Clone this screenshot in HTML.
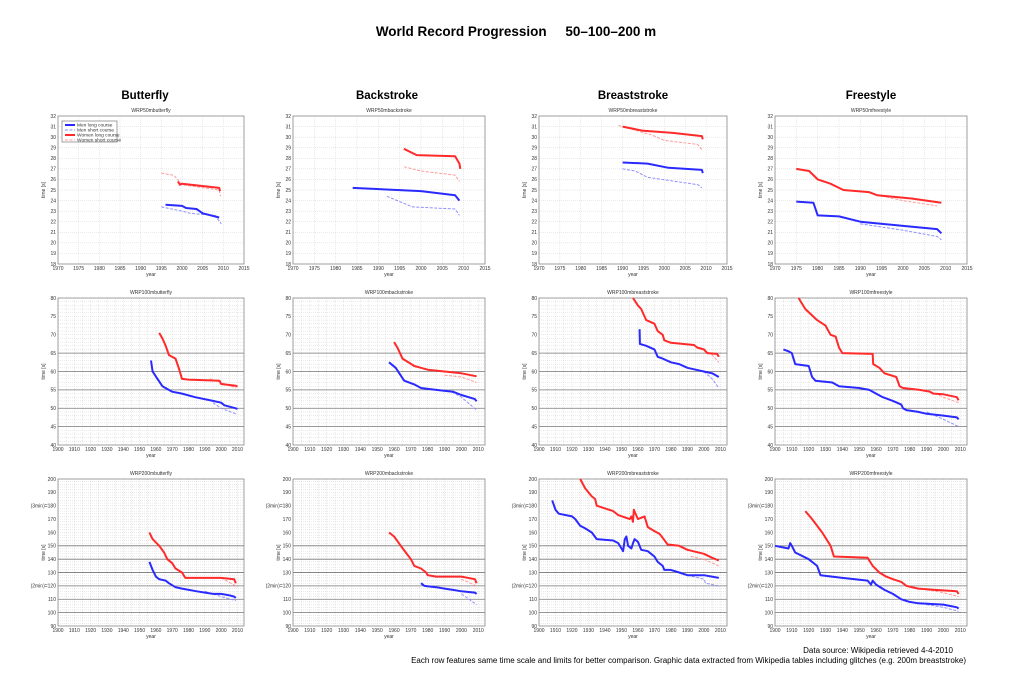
<!DOCTYPE html>
<html><head><meta charset="utf-8"><style>
html,body{margin:0;padding:0;background:#fff;}
svg{display:block;font-family:"Liberation Sans",sans-serif;}
</style></head><body>
<svg id="s" width="1024" height="673" viewBox="0 0 1024 673" xmlns="http://www.w3.org/2000/svg">
<text x="516" y="36" font-size="13.5" font-weight="bold" text-anchor="middle" xml:space="preserve">World Record Progression     50–100–200 m</text>
<text x="145" y="99" font-size="11.5" font-weight="bold" text-anchor="middle">Butterfly</text>
<text x="387" y="99" font-size="11.5" font-weight="bold" text-anchor="middle">Backstroke</text>
<text x="633" y="99" font-size="11.5" font-weight="bold" text-anchor="middle">Breaststroke</text>
<text x="871" y="99" font-size="11.5" font-weight="bold" text-anchor="middle">Freestyle</text>
<text x="953" y="653" font-size="8" text-anchor="end">Data source: Wikipedia retrieved 4-4-2010</text>
<text x="966" y="663" font-size="8" text-anchor="end">Each row features same time scale and limits for better comparison. Graphic data extracted from Wikipedia tables including glitches (e.g. 200m breaststroke)</text>
</svg>
<script>
var S=document.getElementById('s'),NS='http://www.w3.org/2000/svg';
function el(t,a,txt){var e=document.createElementNS(NS,t);for(var k in a)e.setAttribute(k,a[k]);if(txt!=null)e.textContent=txt;S.appendChild(e);return e;}
var cols=[[58,244],[293,485],[539,727],[775,967]];
var rows=[{t:116,b:264,x0:1970,x1:2015,xs:5,y0:18,y1:32,ys:1,dark:[],dist:'50'},
{t:298,b:445,x0:1900,x1:2014,xs:10,y0:40,y1:80,ys:5,dark:[45,50,55,60,65],dist:'100'},
{t:479,b:626,x0:1900,x1:2014,xs:10,y0:90,y1:200,ys:10,dark:[100,110,120,130,140,150],dist:'200'}];
var names=['butterfly','backstroke','breaststroke','freestyle'];
var D=[
[[[[1996,23.6],[2000,23.5],[2001,23.3],[2003.5,23.2],[2005,22.8],[2009,22.4]],
 [[1995,23.4],[2000,23.0],[2002,22.8],[2008,22.6],[2009.5,21.8]],
 [[1999,25.8],[1999.5,25.5],[2000,25.6],[2009,25.2],[2009.2,24.9]],
 [[1995,26.6],[1998,26.4],[2000,25.5],[2009,25.0],[2009.3,24.4]]],
[[[1984,25.2],[2000,24.9],[2008,24.5],[2009,24.0]],
 [[1992,24.4],[1998,23.4],[2008,23.2],[2009,22.6]],
 [[1996,28.9],[1999,28.3],[2008,28.2],[2009,27.5],[2009.2,27.0]],
 [[1996,27.2],[2000,26.8],[2008,26.4],[2009,25.8]]],
[[[1990,27.6],[1996,27.5],[2001,27.1],[2009,26.9],[2009.2,26.6]],
 [[1990,27.0],[1993,26.8],[1996,26.2],[2008,25.5],[2009,25.2]],
 [[1990,31.0],[1995,30.6],[2002,30.4],[2009,30.1],[2009.2,29.8]],
 [[1989,31.1],[1997,30.2],[2000,29.7],[2008,29.3],[2009,28.8]]],
[[[1975,23.9],[1979,23.8],[1980,22.6],[1985,22.5],[1990,22.0],[2000,21.6],[2008,21.3],[2009,20.9]],
 [[1990,21.8],[2000,21.2],[2008,20.6],[2009,20.3]],
 [[1975,27.0],[1978,26.8],[1980,26.0],[1983,25.6],[1986,25.0],[1992,24.8],[1994,24.5],[2002,24.2],[2009,23.8]],
 [[1993,24.6],[2000,24.0],[2008,23.5]]]],
[[[[1957,63],[1958,60],[1961,58],[1964,56],[1970,54.5],[1976,54],[1984,53],[1995,52],[2000,51.5],[2002,50.8],[2009,50.0],[2010,49.8]],
 [[1995,51.5],[2000,50],[2009,48.5]],
 [[1962,70.5],[1964,69],[1966,67],[1968,64.5],[1972,63.5],[1974,61],[1976,58],[1980,57.8],[1999,57.5],[2000,56.6],[2009,56.1],[2010,55.9]],
 [[1993,58],[2000,57],[2009,55.5]]],
[[[1957,62.5],[1961,61],[1966,57.5],[1972,56.5],[1976,55.5],[1985,55],[1995,54.5],[2000,53.6],[2008,52.5],[2009,51.9]],
 [[1992,55],[2000,53],[2009,49.5]],
 [[1960,68],[1962,66.5],[1965,63.5],[1972,61.5],[1976,61],[1980,60.5],[2000,59.5],[2009,58.7]],
 [[1990,59],[2000,58.5],[2009,57]]],
[[[1961,71.5],[1961.2,67.5],[1965,67],[1970,66],[1972,64],[1975,63.5],[1980,62.5],[1985,62],[1990,61],[1995,60.5],[2000,60],[2005,59.5],[2009,58.5]],
 [[2000,60],[2005,58],[2009,55.5]],
 [[1957,80],[1960,78],[1962,77],[1965,74],[1970,73],[1972,71],[1975,70],[1976,68.5],[1980,67.8],[1994,67.2],[1996,66.5],[2000,66],[2002,65],[2008,64.8],[2009,64]],
 [[2000,66],[2005,64.5],[2009,62.5]]],
[[[1905,66],[1908,65.5],[1910,65],[1912,62],[1920,61.5],[1922,58.5],[1924,57.5],[1934,57],[1938,56],[1950,55.5],[1956,55],[1960,54],[1964,53],[1970,52],[1975,51],[1976,50],[1978,49.5],[1985,49],[1990,48.5],[2000,48],[2008,47.5],[2009,47]],
 [[1990,49],[2000,47],[2009,45]],
 [[1914,80],[1918,77],[1925,74],[1930,72.5],[1933,70],[1936,69.5],[1938,66.5],[1940,65],[1958,64.8],[1958.3,62],[1962,61],[1965,59.5],[1972,58.5],[1974,56],[1976,55.5],[1986,55],[1992,54.5],[1994,54],[2000,53.8],[2008,53],[2009,52.2]],
 [[1990,55],[2000,53],[2009,51.5]]]],
[[[[1956,138],[1957,135],[1958,132],[1960,127],[1962,125],[1966,124],[1968,122],[1972,119],[1976,118],[1985,116],[1995,114],[2000,114],[2005,113],[2008,112],[2009,111]],
 [[1990,116],[2000,112],[2009,109]],
 [[1956,160],[1958,155],[1962,150],[1965,145],[1967,140],[1970,137],[1972,133],[1976,130],[1978,126],[2000,126],[2008,125],[2009,122]],
 [[2000,126],[2009,120]]],
[[[1976,122],[1978,120],[1985,119],[1990,118],[1995,117],[2000,116],[2008,115],[2009,114]],
 [[2000,114],[2009,106]],
 [[1957,160],[1960,157],[1964,150],[1967,145],[1970,140],[1972,135],[1976,133],[1979,130],[1980,128],[1985,127],[2000,127],[2008,125],[2009,122]],
 [[2000,125],[2009,120]]],
[[[1908,184],[1910,177],[1912,174],[1920,172],[1922,170],[1925,165],[1928,163],[1932,160],[1935,155],[1945,154],[1948,152],[1950,148],[1951,146],[1952,155],[1953,157],[1954,150],[1956,148],[1957,152],[1958,155],[1960,153],[1962,147],[1966,146],[1970,142],[1972,138],[1975,135],[1976,132],[1980,132],[1985,130],[1990,128],[2000,128],[2009,126]],
 [[1990,128],[2000,125],[2001,122],[2009,120]],
 [[1925,200],[1928,193],[1932,187],[1934,185],[1935,180],[1940,178],[1945,176],[1948,173],[1955,170],[1956,172],[1957,168],[1957.5,177],[1960,170],[1964,172],[1965,168],[1966,164],[1970,161],[1973,159],[1975,156],[1978,151],[1985,150],[1990,147],[2000,144],[2005,141],[2009,139]],
 [[1992,142],[2000,140],[2009,135]]],
[[[1900,150],[1908,148],[1909,152],[1910,150],[1912,145],[1920,140],[1925,135],[1927,128],[1940,126],[1955,124],[1957,121],[1958,124],[1960,121],[1965,117],[1970,114],[1975,110],[1980,108],[1985,107],[2000,106],[2008,104],[2009,103]],
 [[1990,106],[2000,104],[2009,101]],
 [[1918,176],[1922,170],[1928,160],[1933,150],[1935,142],[1955,141],[1958,135],[1962,130],[1966,127],[1970,125],[1975,123],[1978,120],[1985,118],[1995,117],[2008,116],[2009,114]],
 [[1990,117],[2000,115],[2009,112]]]]];
var styles=[{c:'#2a2aff',w:2,d:''},{c:'#8f8fff',w:1,d:'3,1.5'},{c:'#ff2a2a',w:2,d:''},{c:'#ff9a9a',w:1,d:'3,1.5'}];
rows.forEach(function(r,ri){cols.forEach(function(c,ci){
 var L=c[0],R=c[1],T=r.t,B=r.b;
 function X(v){return L+(v-r.x0)/(r.x1-r.x0)*(R-L);}
 function Y(v){return B-(v-r.y0)/(r.y1-r.y0)*(B-T);}
 var ms=ri==0?1:(ri==1?1:2);
 for(var v=r.y0+ms;v<r.y1;v+=ms){el('line',{x1:L,x2:R,y1:Y(v),y2:Y(v),stroke:'#d4d4d4','stroke-width':0.5,'stroke-dasharray':'1,1'});}
 var xm=ri==0?5:5;
 for(var v=r.x0+xm;v<r.x1;v+=xm){el('line',{x1:X(v),x2:X(v),y1:T,y2:B,stroke:'#d4d4d4','stroke-width':0.5,'stroke-dasharray':'1,1'});}
 r.dark.forEach(function(v){el('line',{x1:L,x2:R,y1:Y(v),y2:Y(v),stroke:'#777','stroke-width':0.8});});
 el('rect',{x:L,y:T,width:R-L,height:B-T,fill:'none',stroke:'#888','stroke-width':0.8});
 for(var v=r.y0;v<=r.y1+0.01;v+=r.ys){var lab=''+v;if(ri==2&&v==120)lab='(2min)=120';if(ri==2&&v==180)lab='(3min)=180';
  el('text',{x:L-2,y:Y(v)+1.8,'font-size':5,'text-anchor':'end',fill:'#333'},lab);}
 for(var v=r.x0;v<=r.x1;v+=r.xs){el('text',{x:X(v),y:B+6,'font-size':5,'text-anchor':'middle',fill:'#333'},''+v);}
 el('text',{x:(L+R)/2,y:B+12,'font-size':5,'text-anchor':'middle',fill:'#333'},'year');
 el('text',{x:L-13,y:(T+B)/2,'font-size':5,'text-anchor':'middle',fill:'#333',transform:'rotate(-90 '+(L-13)+' '+((T+B)/2)+')'},'time [s]');
 el('text',{x:(L+R)/2,y:T-4,'font-size':5,'text-anchor':'middle',fill:'#333'},'WRP'+r.dist+'m'+names[ci]);
 var ser=D[ri][ci];
 [1,3,0,2].forEach(function(si){var st=styles[si],pts=ser[si],s='';
  for(var i=0;i<pts.length;i++){s+=(i?'L':'M')+X(pts[i][0]).toFixed(1)+','+Y(pts[i][1]).toFixed(1);}
  el('path',{d:s,fill:'none',stroke:st.c,'stroke-width':st.w,'stroke-dasharray':st.d,'stroke-linejoin':'round'});});
 if(ri==0&&ci==0){
  el('rect',{x:62,y:121,width:55,height:21,fill:'#fff',stroke:'#666','stroke-width':0.6});
  var ln=['Men long course','Men short course','Women long course','Women short course'];
  ln.forEach(function(t,i){var st=styles[i],yy=125+i*5;
   el('line',{x1:65,x2:75,y1:yy,y2:yy,stroke:st.c,'stroke-width':st.w,'stroke-dasharray':st.d});
   el('text',{x:77,y:yy+1.7,'font-size':4.8,fill:'#333'},t);});
 }
});});
</script>
</body></html>
